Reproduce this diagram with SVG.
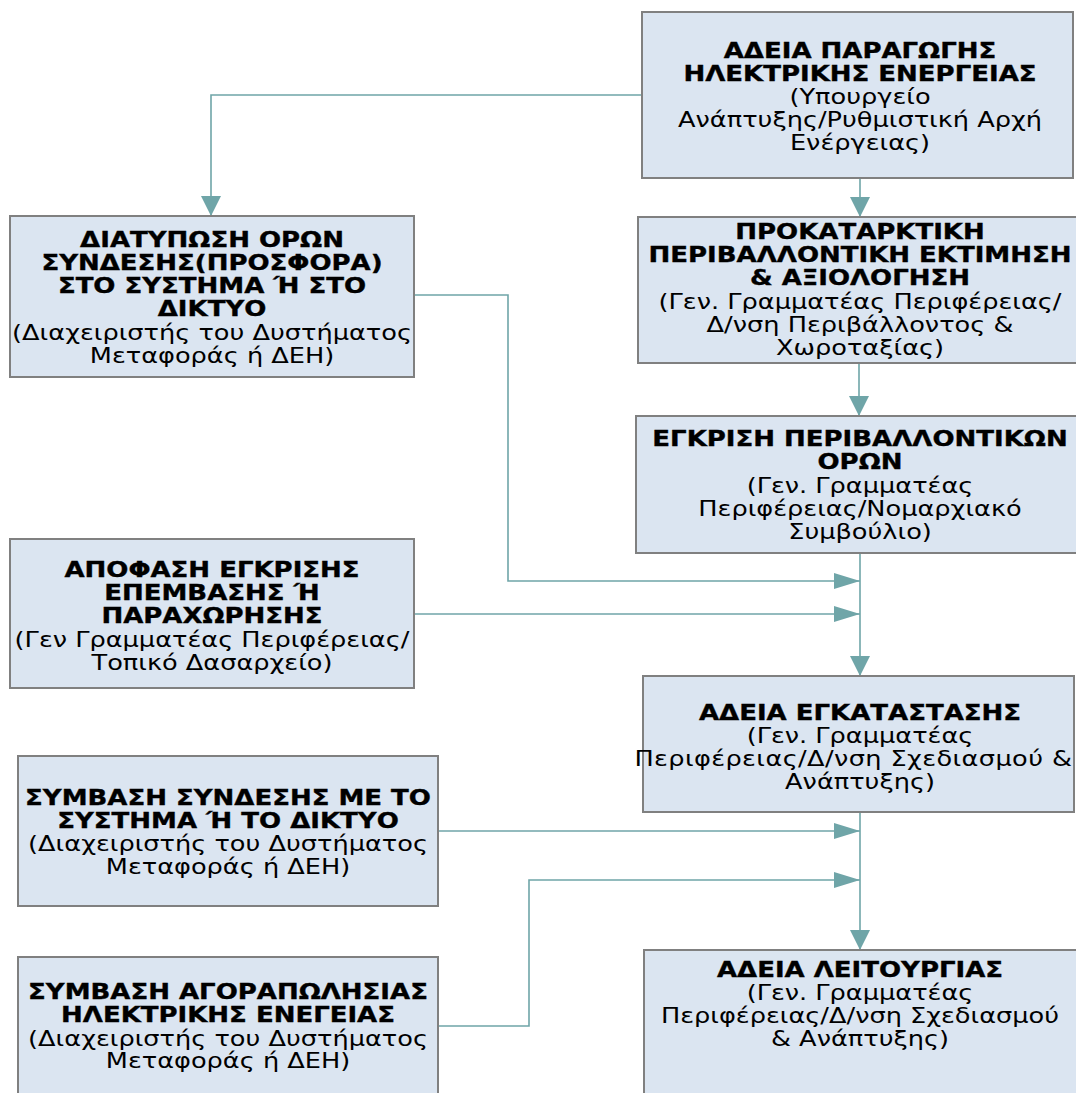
<svg xmlns="http://www.w3.org/2000/svg" width="1076" height="1093" viewBox="0 0 1076 1093">
<style>
.box{fill:#dbe5f1;stroke:#808080;stroke-width:2}
.t{font-family:"DejaVu Sans",Verdana,sans-serif;font-size:20.5px;fill:#000;text-anchor:middle}
.b{font-weight:bold;font-size:20.8px;stroke:#000;stroke-width:0.35}
.c{fill:none;stroke:#6fa5a8;stroke-width:1.6}
</style>
<defs>
<marker id="ah" markerUnits="userSpaceOnUse" markerWidth="26" markerHeight="16" refX="26" refY="8" orient="auto"><path d="M0,0 L26,8 L0,16 z" fill="#6fa5a8"/></marker>
<marker id="av" markerUnits="userSpaceOnUse" markerWidth="20" markerHeight="20" refX="20" refY="10" orient="auto"><path d="M0,0 L20,10 L0,20 z" fill="#6fa5a8"/></marker>
</defs>
<rect width="1076" height="1093" fill="#fff"/>
<g id="connectors">
<path class="c" d="M642,95 H211 V216" marker-end="url(#av)"/>
<path class="c" d="M860,178 V217" marker-end="url(#av)"/>
<path class="c" d="M859,363 V416" marker-end="url(#av)"/>
<path class="c" d="M860,553 V676" marker-end="url(#av)"/>
<path class="c" d="M414,295 H508 V581 H860" marker-end="url(#ah)"/>
<path class="c" d="M414,614 H860" marker-end="url(#ah)"/>
<path class="c" d="M860,812 V950" marker-end="url(#av)"/>
<path class="c" d="M438,831 H860" marker-end="url(#ah)"/>
<path class="c" d="M438,1026 H529 V880 H860" marker-end="url(#ah)"/>
</g>
<g id="n1">
<rect class="box" x="642" y="12" width="431" height="166"/>
<g transform="translate(860,0) scale(1.25,1)">
<text class="t b" x="0" y="58">ΑΔΕΙΑ ΠΑΡΑΓΩΓΗΣ</text>
<text class="t b" x="0" y="81">ΗΛΕΚΤΡΙΚΗΣ ΕΝΕΡΓΕΙΑΣ</text>
<text class="t" x="0" y="104">(Υπουργείο</text>
<text class="t" x="0" y="127">Ανάπτυξης/Ρυθμιστική Αρχή</text>
<text class="t" x="0" y="150">Ενέργειας)</text>
</g>
</g>
<g id="n2">
<rect class="box" x="10" y="216" width="404" height="161"/>
<g transform="translate(212,0) scale(1.25,1)">
<text class="t b" x="0" y="247">ΔΙΑΤΥΠΩΣΗ ΟΡΩΝ</text>
<text class="t b" x="0" y="270">ΣΥΝΔΕΣΗΣ(ΠΡΟΣΦΟΡΑ)</text>
<text class="t b" x="0" y="293">ΣΤΟ ΣΥΣΤΗΜΑ Ή ΣΤΟ</text>
<text class="t b" x="0" y="316">ΔΙΚΤΥΟ</text>
<text class="t" x="0" y="340">(Διαχειριστής του Δυστήματος</text>
<text class="t" x="0" y="363">Μεταφοράς ή ΔΕΗ)</text>
</g>
</g>
<g id="n3">
<rect class="box" x="638" y="217" width="450" height="146"/>
<g transform="translate(860,0) scale(1.25,1)">
<text class="t b" x="0" y="239">ΠΡΟΚΑΤΑΡΚΤΙΚΗ</text>
<text class="t b" x="0" y="262">ΠΕΡΙΒΑΛΛΟΝΤΙΚΗ ΕΚΤΙΜΗΣΗ</text>
<text class="t b" x="0" y="285">&amp; ΑΞΙΟΛΟΓΗΣΗ</text>
<text class="t" x="0" y="309">(Γεν. Γραμματέας Περιφέρειας/</text>
<text class="t" x="0" y="332">Δ/νση Περιβάλλοντος &amp;</text>
<text class="t" x="0" y="355">Χωροταξίας)</text>
</g>
</g>
<g id="n4">
<rect class="box" x="636" y="416" width="452" height="137"/>
<g transform="translate(860,0) scale(1.25,1)">
<text class="t b" x="0" y="446">ΕΓΚΡΙΣΗ ΠΕΡΙΒΑΛΛΟΝΤΙΚΩΝ</text>
<text class="t b" x="0" y="469">ΟΡΩΝ</text>
<text class="t" x="0" y="493">(Γεν. Γραμματέας</text>
<text class="t" x="0" y="516">Περιφέρειας/Νομαρχιακό</text>
<text class="t" x="0" y="539">Συμβούλιο)</text>
</g>
</g>
<g id="n5">
<rect class="box" x="10" y="539" width="404" height="149"/>
<g transform="translate(212,0) scale(1.25,1)">
<text class="t b" x="0" y="577">ΑΠΟΦΑΣΗ ΕΓΚΡΙΣΗΣ</text>
<text class="t b" x="0" y="600">ΕΠΕΜΒΑΣΗΣ Ή</text>
<text class="t b" x="0" y="623">ΠΑΡΑΧΩΡΗΣΗΣ</text>
<text class="t" x="0" y="647">(Γεν Γραμματέας Περιφέρειας/</text>
<text class="t" x="0" y="670">Τοπικό Δασαρχείο)</text>
</g>
</g>
<g id="n6">
<rect class="box" x="643" y="676" width="431" height="136"/>
<g transform="translate(860,0) scale(1.25,1)">
<text class="t b" x="0" y="720">ΑΔΕΙΑ ΕΓΚΑΤΑΣΤΑΣΗΣ</text>
<text class="t" x="0" y="743">(Γεν. Γραμματέας</text>
<text class="t" x="-5.5" y="766" textLength="350" lengthAdjust="spacing">Περιφέρειας/Δ/νση Σχεδιασμού &amp;</text>
<text class="t" x="0" y="789">Ανάπτυξης)</text>
</g>
</g>
<g id="n7">
<rect class="box" x="18" y="756" width="420" height="150"/>
<g transform="translate(228,0) scale(1.25,1)">
<text class="t b" x="0" y="805">ΣΥΜΒΑΣΗ ΣΥΝΔΕΣΗΣ ΜΕ ΤΟ</text>
<text class="t b" x="0" y="828">ΣΥΣΤΗΜΑ Ή ΤΟ ΔΙΚΤΥΟ</text>
<text class="t" x="0" y="851">(Διαχειριστής του Δυστήματος</text>
<text class="t" x="0" y="874">Μεταφοράς ή ΔΕΗ)</text>
</g>
</g>
<g id="n8">
<rect class="box" x="18" y="957" width="420" height="150"/>
<g transform="translate(228,0) scale(1.25,1)">
<text class="t b" x="0" y="999">ΣΥΜΒΑΣΗ ΑΓΟΡΑΠΩΛΗΣΙΑΣ</text>
<text class="t b" x="0" y="1022">ΗΛΕΚΤΡΙΚΗΣ ΕΝΕΓΕΙΑΣ</text>
<text class="t" x="0" y="1046">(Διαχειριστής του Δυστήματος</text>
<text class="t" x="0" y="1068">Μεταφοράς ή ΔΕΗ)</text>
</g>
</g>
<g id="n9">
<rect class="box" x="644" y="950" width="440" height="160"/>
<g transform="translate(860,0) scale(1.25,1)">
<text class="t b" x="0" y="977">ΑΔΕΙΑ ΛΕΙΤΟΥΡΓΙΑΣ</text>
<text class="t" x="0" y="1000">(Γεν. Γραμματέας</text>
<text class="t" x="0" y="1023">Περιφέρειας/Δ/νση Σχεδιασμού</text>
<text class="t" x="0" y="1046">&amp; Ανάπτυξης)</text>
</g>
</g>
</svg>
